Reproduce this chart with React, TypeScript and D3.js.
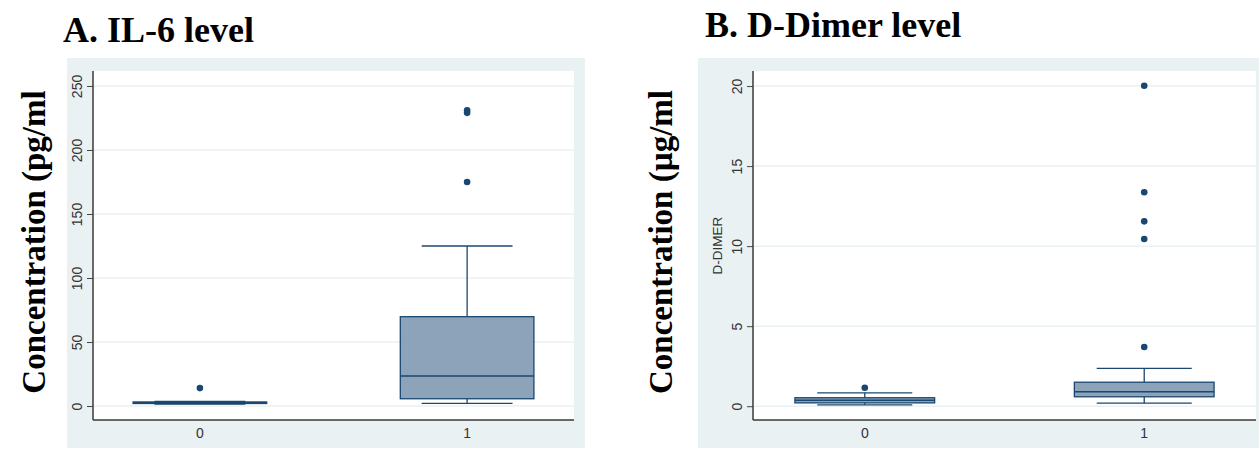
import { useEffect, useRef } from "react";
import * as d3 from "d3";

interface BoxStats {
  lo: number;
  q1: number;
  med: number;
  q3: number;
  hi: number;
}

const categories = [0, 1];

// IL-6 (pg/ml)
const il6Ticks = [0, 50, 100, 150, 200, 250];
const il6Stats: BoxStats[] = [
  { lo: 1.6, q1: 2.0, med: 2.6, q3: 3.2, hi: 3.6 },
  { lo: 2.1, q1: 5.7, med: 23.4, q3: 69.8, hi: 125 },
];
const il6Outliers = [[14], [175, 229, 231]];

// D-Dimer (µg/ml)
const ddTicks = [0, 5, 10, 15, 20];
const ddStats: BoxStats[] = [
  { lo: 0.09, q1: 0.21, med: 0.37, q3: 0.53, hi: 0.84 },
  { lo: 0.19, q1: 0.59, med: 0.9, q3: 1.5, hi: 2.37 },
];
const ddOutliers = [[1.15], [3.7, 10.45, 11.55, 13.37, 20.02]];

const NAVY = "#1a476f";
const BOX_FILL = "#8da3b9";
const OUTER_BG = "#eaf1f3";
const GRID = "#eaf1f3";
const TICK_TEXT = "#333";

interface PanelCfg {
  title: string;
  titleX: number;
  titleY: number;
  bigLabel: string;
  bigLabelX: number;
  innerLabel: string | null;
  bg: { x: number; y: number; w: number; h: number };
  plot: { x: number; y: number; w: number; h: number };
  domain: [number, number];
  ticks: number[];
  stats: BoxStats[];
  outliers: number[][];
}

export default function App() {
  const svgRef = useRef<SVGSVGElement>(null);

  useEffect(() => {
    if (!svgRef.current) return;
    const svg = d3.select(svgRef.current);
    svg.selectAll("*").remove();

    const panels: PanelCfg[] = [
      {
        title: "A. IL-6 level",
        titleX: 63,
        titleY: 42,
        bigLabel: "Concentration (pg/ml",
        bigLabelX: 45,
        innerLabel: null,
        bg: { x: 67, y: 58, w: 518, h: 390 },
        plot: { x: 93, y: 71, w: 481, h: 349 },
        domain: [-10.9, 261.7],
        ticks: il6Ticks,
        stats: il6Stats,
        outliers: il6Outliers,
      },
      {
        title: "B. D-Dimer level",
        titleX: 705,
        titleY: 37,
        bigLabel: "Concentration (µg/ml",
        bigLabelX: 672,
        innerLabel: "D-DIMER",
        bg: { x: 698, y: 58, w: 561, h: 390 },
        plot: { x: 753, y: 71, w: 503, h: 349 },
        domain: [-0.86, 20.94],
        ticks: ddTicks,
        stats: ddStats,
        outliers: ddOutliers,
      },
    ];

    panels.forEach((p) => {
      const g = svg.append("g");

      // outer graph region
      g.append("rect")
        .attr("x", p.bg.x)
        .attr("y", p.bg.y)
        .attr("width", p.bg.w)
        .attr("height", p.bg.h)
        .attr("fill", OUTER_BG);

      // plot region
      g.append("rect")
        .attr("x", p.plot.x)
        .attr("y", p.plot.y)
        .attr("width", p.plot.w)
        .attr("height", p.plot.h)
        .attr("fill", "#fff");

      const x = d3
        .scaleLinear()
        .domain([-0.4, 1.4])
        .range([p.plot.x, p.plot.x + p.plot.w]);
      const y = d3
        .scaleLinear()
        .domain(p.domain)
        .range([p.plot.y + p.plot.h, p.plot.y]);

      // gridlines
      g.append("g")
        .selectAll("line")
        .data(p.ticks)
        .join("line")
        .attr("x1", p.plot.x)
        .attr("x2", p.plot.x + p.plot.w)
        .attr("y1", (d) => y(d))
        .attr("y2", (d) => y(d))
        .attr("stroke", GRID)
        .attr("stroke-width", 1.5);

      // y axis
      const yAxis = g
        .append("g")
        .attr("transform", `translate(${p.plot.x},0)`)
        .call(d3.axisLeft(y).tickValues(p.ticks).tickSize(6).tickFormat(d3.format("d")));
      yAxis.select(".domain").remove();
      yAxis.selectAll(".tick line").attr("stroke", "#444").attr("stroke-width", 1);
      yAxis
        .selectAll(".tick text")
        .attr("x", null)
        .attr("dy", null)
        .attr("transform", "translate(-16,0) rotate(-90)")
        .attr("text-anchor", "middle")
        .attr("dominant-baseline", "central")
        .style("font-family", "Arial, 'Liberation Sans', sans-serif")
        .style("font-size", "14px")
        .style("fill", TICK_TEXT);

      // axis lines
      g.append("line")
        .attr("x1", p.plot.x)
        .attr("x2", p.plot.x)
        .attr("y1", p.plot.y)
        .attr("y2", p.plot.y + p.plot.h)
        .attr("stroke", "#3a3a3a")
        .attr("stroke-width", 1.5);
      g.append("line")
        .attr("x1", p.plot.x)
        .attr("x2", p.plot.x + p.plot.w)
        .attr("y1", p.plot.y + p.plot.h)
        .attr("y2", p.plot.y + p.plot.h)
        .attr("stroke", "#3a3a3a")
        .attr("stroke-width", 1.5);

      // category labels
      g.append("g")
        .selectAll("text")
        .data(categories)
        .join("text")
        .attr("x", (d) => x(d))
        .attr("y", p.plot.y + p.plot.h + 18)
        .attr("text-anchor", "middle")
        .style("font-family", "Arial, 'Liberation Sans', sans-serif")
        .style("font-size", "14px")
        .style("fill", TICK_TEXT)
        .text((d) => String(d));

      const boxHalf = 0.25;
      const capHalf = 0.17;

      // boxes
      const boxes = g
        .append("g")
        .selectAll("g")
        .data(p.stats.map((s, i) => ({ ...s, cat: categories[i] })))
        .join("g");

      // whiskers
      boxes
        .append("line")
        .attr("x1", (d) => x(d.cat))
        .attr("x2", (d) => x(d.cat))
        .attr("y1", (d) => y(d.q3))
        .attr("y2", (d) => y(d.hi))
        .attr("stroke", NAVY)
        .attr("stroke-width", 1.3);
      boxes
        .append("line")
        .attr("x1", (d) => x(d.cat))
        .attr("x2", (d) => x(d.cat))
        .attr("y1", (d) => y(d.q1))
        .attr("y2", (d) => y(d.lo))
        .attr("stroke", NAVY)
        .attr("stroke-width", 1.3);
      // caps
      ["hi", "lo"].forEach((k) => {
        boxes
          .append("line")
          .attr("x1", (d) => x(d.cat - capHalf))
          .attr("x2", (d) => x(d.cat + capHalf))
          .attr("y1", (d) => y((d as any)[k]))
          .attr("y2", (d) => y((d as any)[k]))
          .attr("stroke", NAVY)
          .attr("stroke-width", 1.3);
      });
      // IQR box
      boxes
        .append("rect")
        .attr("x", (d) => x(d.cat - boxHalf))
        .attr("width", (d) => x(d.cat + boxHalf) - x(d.cat - boxHalf))
        .attr("y", (d) => y(d.q3))
        .attr("height", (d) => y(d.q1) - y(d.q3))
        .attr("fill", BOX_FILL)
        .attr("stroke", NAVY)
        .attr("stroke-width", 1.3);
      // median
      boxes
        .append("line")
        .attr("x1", (d) => x(d.cat - boxHalf))
        .attr("x2", (d) => x(d.cat + boxHalf))
        .attr("y1", (d) => y(d.med))
        .attr("y2", (d) => y(d.med))
        .attr("stroke", NAVY)
        .attr("stroke-width", 1.5);

      // outliers
      const pts = p.outliers.flatMap((vals, i) =>
        vals.map((v) => ({ cat: categories[i], v }))
      );
      g.append("g")
        .selectAll("circle")
        .data(pts)
        .join("circle")
        .attr("cx", (d) => x(d.cat))
        .attr("cy", (d) => y(d.v))
        .attr("r", 3.3)
        .attr("fill", NAVY);

      // inner axis title
      if (p.innerLabel) {
        g.append("text")
          .attr(
            "transform",
            `translate(${p.plot.x - 31},${p.plot.y + p.plot.h / 2}) rotate(-90)`
          )
          .attr("text-anchor", "middle")
          .style("font-family", "Arial, 'Liberation Sans', sans-serif")
          .style("font-size", "13.5px")
          .style("fill", TICK_TEXT)
          .text(p.innerLabel);
      }

      // panel title
      g.append("text")
        .attr("x", p.titleX)
        .attr("y", p.titleY)
        .style("font-family", "'Liberation Serif', 'Times New Roman', serif")
        .style("font-weight", "bold")
        .style("font-size", "36px")
        .style("fill", "#000")
        .text(p.title);

      // big y label
      g.append("text")
        .attr("transform", `translate(${p.bigLabelX},242) rotate(-90)`)
        .attr("text-anchor", "middle")
        .style("font-family", "'Liberation Serif', 'Times New Roman', serif")
        .style("font-weight", "bold")
        .style("font-size", "33px")
        .style("fill", "#000")
        .text(p.bigLabel);
    });
  }, []);

  return (
    <svg
      ref={svgRef}
      width={1259}
      height={451}
      style={{ position: "absolute", left: 0, top: 0, background: "#fff" }}
    />
  );
}
